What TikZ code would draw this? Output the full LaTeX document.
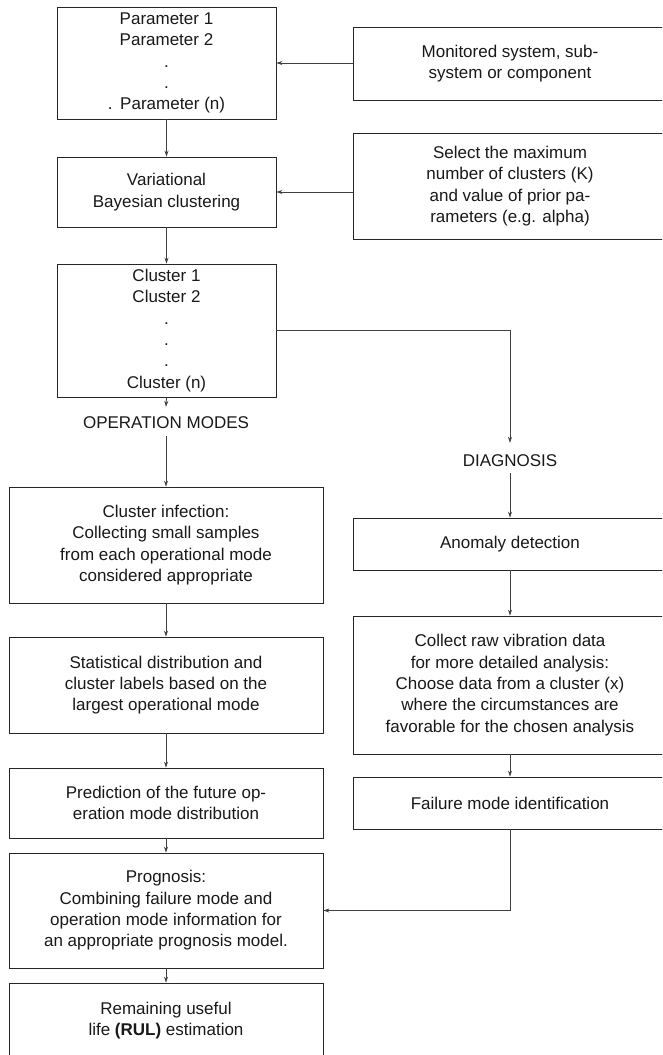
\documentclass[tikz,border=0pt]{standalone}
\usepackage{fontspec}
\setmainfont{Liberation Sans}
\usetikzlibrary{arrows.meta,calc}
\tikzset{
  box/.style={draw=black!85, line width=0.9pt, inner sep=0pt, align=center,
    text=black!90, font=\fontsize{17}{21.3}\selectfont},
  lbl/.style={inner sep=0pt, text=black!90, font=\fontsize{17}{21.3}\selectfont},
  conn/.style={draw=black!75, line width=0.8pt, -{Stealth[length=6pt,width=4pt]}},
  plain/.style={draw=black!75, line width=0.8pt},
}
\begin{document}
\begin{tikzpicture}[x=1pt,y=-1pt]
\clip (0,0) rectangle (662,1055);
\fill[white] (0,0) rectangle (662,1055);
% left column
\node[box, minimum width=219pt, minimum height=112pt] (par) at (166.5,63)
  {Parameter 1\\Parameter 2\\.\\.\\.\hspace{0.45em}Parameter (n)};
\node[box, minimum width=219pt, minimum height=70pt] (var) at (166.5,192)
  {Variational\\Bayesian clustering};
\node[box, minimum width=219pt, minimum height=133pt] (clu) at (166.5,330.5)
  {Cluster 1\\Cluster 2\\.\\.\\.\\Cluster (n)};
\node[lbl] (om) at (166,423) {OPERATION MODES};
\node[box, minimum width=314pt, minimum height=116pt] (inf) at (166,545)
  {Cluster infection:\\Collecting small samples\\from each operational mode\\considered appropriate};
\node[box, minimum width=314pt, minimum height=96pt] (sta) at (166,685)
  {Statistical distribution and\\cluster labels based on the\\largest operational mode};
\node[box, minimum width=314pt, minimum height=70pt] (pre) at (166,803)
  {Prediction of the future op-\\eration mode distribution};
\node[box, minimum width=314pt, minimum height=115pt] (pro) at (166,910.5)
  {Prognosis:\\Combining failure mode and\\operation mode information for\\an appropriate prognosis model.};
\node[box, minimum width=314pt, minimum height=75pt] (rul) at (166,1020.5)
  {Remaining useful\\life \textbf{(RUL)} estimation};
% right column
\node[box, minimum width=314pt, minimum height=73pt] (mon) at (510,63.5)
  {Monitored system, sub-\\system or component};
\node[box, minimum width=314pt, minimum height=106pt] (sel) at (510,186)
  {Select the maximum\\number of clusters (K)\\and value of prior pa-\\rameters (e.g. alpha)};
\node[lbl] (dia) at (510,461) {DIAGNOSIS};
\node[box, minimum width=314pt, minimum height=52pt] (ano) at (510,544)
  {Anomaly detection};
\node[box, minimum width=314pt, minimum height=138pt] (col) at (510,685)
  {Collect raw vibration data\\for more detailed analysis:\\Choose data from a cluster (x)\\where the circumstances are\\favorable for the chosen analysis};
\node[box, minimum width=314pt, minimum height=52pt] (fai) at (510,803)
  {Failure mode identification};
% connectors
\draw[conn] (par.east -| mon.west) -- (par.east);
\draw[conn] (var.east -| sel.west) -- (var.east);
\draw[conn] (par.south) -- (var.north);
\draw[conn] (var.south) -- (clu.north);
\draw[conn] (clu.south) -- ([yshift=10pt]om.north);
\draw[conn] ([yshift=-7pt]om.south) -- (inf.north);
\draw[conn] (clu.east) -| ([yshift=12pt]dia.north);
\draw[conn] ([yshift=-6pt]dia.south) -- (ano.north);
\draw[conn] (ano.south) -- (col.north);
\draw[conn] (col.south) -- (fai.north);
\draw[conn] (fai.south) |- (pro.east);
\draw[conn] (inf.south) -- (sta.north);
\draw[conn] (sta.south) -- (pre.north);
\draw[conn] (pre.south) -- (pro.north);
\draw[conn] (pro.south) -- (rul.north);
\end{tikzpicture}
\end{document}
